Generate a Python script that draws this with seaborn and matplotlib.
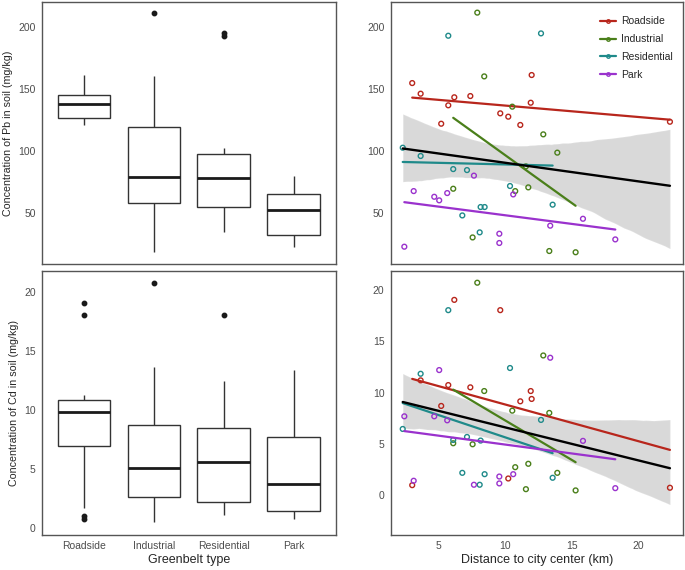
import matplotlib
matplotlib.use("Agg")
import matplotlib.pyplot as plt
from matplotlib.lines import Line2D
import numpy as np
import pandas as pd
import seaborn as sns

# greenbelt types and their colours
types = ["Roadside", "Industrial", "Residential", "Park"]
colors = ["#B8261C", "#4A7F1A", "#1F8A8A", "#9A32CD"]

# sampling sites: distance to city center (km), Pb and Cd in soil (mg/kg)
roadside_dist = [3.05, 3.68, 6.20, 7.40, 5.75, 5.22, 9.64, 10.24, 11.14, 11.99, 11.92, 22.34]
roadside_pb = [154.9, 146.3, 143.4, 144.4, 136.9, 122.0, 130.4, 127.7, 121.0, 161.4, 139.0, 123.6]
roadside_cd = [1.0, 11.2, 19.03, 10.52, 10.74, 8.71, 18.03, 1.65, 9.16, 9.39, 10.16, 0.75]

industrial_dist = [7.92, 8.44, 10.54, 6.12, 7.57, 10.76, 11.74, 11.56, 12.86, 13.31, 13.91, 15.28]
industrial_pb = [211.9, 160.3, 135.8, 69.4, 30.0, 67.5, 70.5, 87.5, 113.4, 19.0, 98.6, 18.0]
industrial_cd = [20.7, 10.16, 8.25, 5.08, 4.98, 2.75, 3.08, 0.61, 13.62, 8.03, 2.2, 0.49]

residential_dist = [5.75, 2.34, 3.68, 6.12, 7.15, 10.37, 8.17, 8.47, 6.80, 8.10, 12.69, 13.56]
residential_pb = [193.2, 102.6, 95.9, 85.3, 84.5, 71.6, 54.6, 54.6, 47.8, 34.1, 195.1, 56.5]
residential_cd = [18.03, 6.47, 11.84, 5.4, 5.69, 12.4, 5.34, 2.07, 2.2, 1.04, 7.35, 1.72]

park_dist = [2.46, 3.16, 4.70, 5.07, 5.67, 7.67, 9.57, 9.57, 10.61, 13.38, 15.83, 18.25]
park_pb = [22.5, 67.5, 62.9, 60.0, 65.9, 80.0, 33.0, 25.5, 64.8, 39.5, 45.1, 28.4]
park_cd = [7.7, 1.43, 7.7, 12.2, 7.31, 1.04, 1.84, 1.17, 2.07, 13.4, 5.31, 0.71]

frames = []
for t, d, pb, cd in [
    ("Roadside", roadside_dist, roadside_pb, roadside_cd),
    ("Industrial", industrial_dist, industrial_pb, industrial_cd),
    ("Residential", residential_dist, residential_pb, residential_cd),
    ("Park", park_dist, park_pb, park_cd),
]:
    frames.append(pd.DataFrame({"type": t, "dist": d, "Pb": pb, "Cd": cd}))
df = pd.concat(frames, ignore_index=True)

sns.set_theme(style="white")
plt.rcParams["font.family"] = ["Liberation Sans", "DejaVu Sans"]

fig = plt.figure(figsize=(6.85, 5.7), dpi=100)
W, H = 685, 570


def panel(x0, y0, x1, y1):
    return fig.add_axes([x0 / W, 1 - y1 / H, (x1 - x0) / W, (y1 - y0) / H])


ax_pb_box = panel(42, 2, 335.5, 264)
ax_pb_sc = panel(390.7, 2, 683.3, 264)
ax_cd_box = panel(42, 271, 335.5, 534.5)
ax_cd_sc = panel(390.7, 271, 683.3, 534.5)


def style(ax):
    for s in ax.spines.values():
        s.set_visible(True)
        s.set_color("#555555")
        s.set_linewidth(1.0)
    ax.tick_params(direction="out", length=2.5, width=0.8, color="#555555",
                   labelcolor="#4D4D4D", labelsize=7.5, pad=2)
    ax.grid(False)


def draw_box(ax, col):
    sns.boxplot(data=df, x="type", y=col, order=types, color="white",
                linecolor="#333333", linewidth=1.0, width=0.75, showcaps=False,
                medianprops=dict(color="#1A1A1A", linewidth=2.0),
                flierprops=dict(marker="o", markersize=3.2, markerfacecolor="#1A1A1A",
                                markeredgecolor="#1A1A1A"),
                ax=ax)
    ax.set_xlim(-0.6, 3.6)
    style(ax)


def draw_scatter(ax, col):
    # overall linear fit with 95% band, then one fit per greenbelt type
    sns.regplot(data=df, x="dist", y=col, scatter=False, color="black", ci=95,
                n_boot=1000, seed=7, truncate=True,
                line_kws=dict(lw=1.7, zorder=4), ax=ax)
    for t, c in zip(types, colors):
        sub = df[df["type"] == t]
        sns.regplot(data=sub, x="dist", y=col, ci=None, color=c, truncate=True,
                    scatter_kws=dict(s=12, facecolors="none", linewidths=1.0, alpha=1, zorder=3),
                    line_kws=dict(lw=1.6, zorder=3), ax=ax)
    ax.set_xlim(1.44, 23.34)
    ax.set_xticks([5, 10, 15, 20])
    style(ax)


draw_box(ax_pb_box, "Pb")
ax_pb_box.set_ylim(8.5, 220.5)
ax_pb_box.set_yticks([50, 100, 150, 200])
ax_pb_box.set_xlabel("")
ax_pb_box.set_xticklabels([])
ax_pb_box.tick_params(axis="x", length=0)
ax_pb_box.set_ylabel("Concentration of Pb in soil (mg/kg)", fontsize=7.7, labelpad=4)

draw_box(ax_cd_box, "Cd")
ax_cd_box.set_ylim(-0.59, 21.76)
ax_cd_box.set_yticks([0, 5, 10, 15, 20])
ax_cd_box.set_xlabel("Greenbelt type", fontsize=9, labelpad=2)
ax_cd_box.set_ylabel("Concentration of Cd in soil (mg/kg)", fontsize=7.7, labelpad=4)

draw_scatter(ax_pb_sc, "Pb")
ax_pb_sc.set_ylim(8.5, 220.5)
ax_pb_sc.set_yticks([50, 100, 150, 200])
ax_pb_sc.set_xticklabels([])
ax_pb_sc.tick_params(axis="x", length=0)
ax_pb_sc.set_xlabel("")
ax_pb_sc.set_ylabel("")

draw_scatter(ax_cd_sc, "Cd")
ax_cd_sc.set_ylim(-3.8, 21.84)
ax_cd_sc.set_yticks([0, 5, 10, 15, 20])
ax_cd_sc.set_xlabel("Distance to city center (km)", fontsize=9, labelpad=2)
ax_cd_sc.set_ylabel("")

handles = [Line2D([0], [0], color=c, lw=1.6, marker="o", markersize=2.5,
                  markerfacecolor="none") for c in colors]
ax_pb_sc.legend(handles, types, loc="upper left", bbox_to_anchor=(0.715, 0.945),
                frameon=False, fontsize=7.5, handlelength=1.5, handletextpad=0.5,
                labelspacing=0.75, borderpad=0, borderaxespad=0)

fig.savefig("out.png", dpi=100)
